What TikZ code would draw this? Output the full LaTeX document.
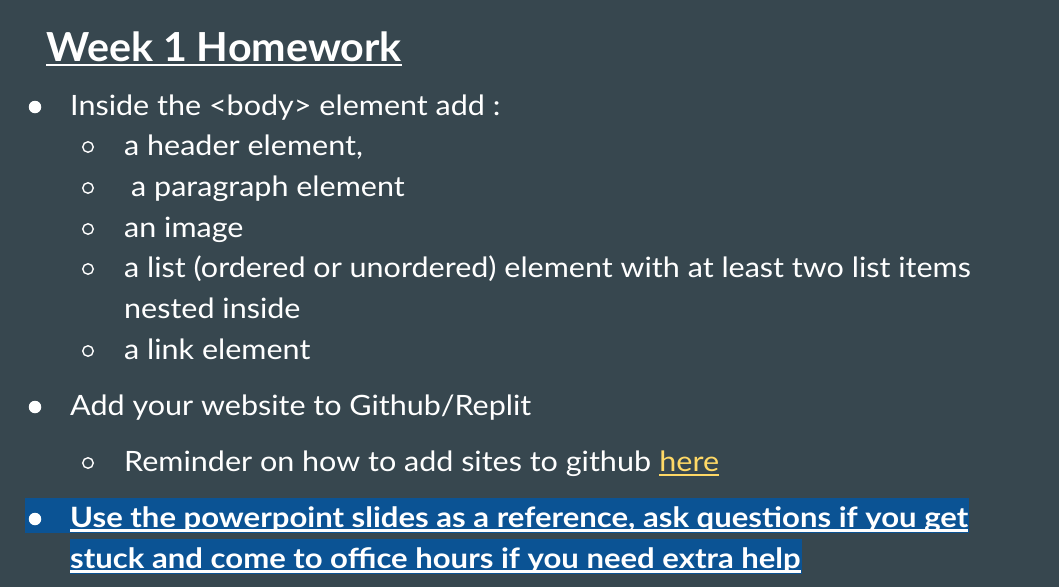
\documentclass[tikz,border=0pt]{standalone}
\usepackage{fontspec}
\setmainfont{Lato}
\newfontfamily\bodyfont[FakeStretch=1.09]{Lato}
\newfontfamily\titlefont[FakeStretch=1.03]{Lato}
\newfontfamily\hifont[FakeStretch=1.11]{Lato}
\usetikzlibrary{calc,backgrounds}
\definecolor{slate1}{RGB}{55,71,79}
\definecolor{hiblue}{RGB}{11,83,148}
\definecolor{gold1}{RGB}{255,217,102}
\tikzstyle{slide}=[
  x=1pt, y=-1pt, every node/.style={inner sep=0pt, anchor=base west, text=white}
]
\tikzstyle{bodytext}=[
  font=\bodyfont\fontsize{28}{34}\selectfont
]
\tikzstyle{titletext}=[
  font=\titlefont\fontsize{40}{48}\selectfont\bfseries
]
\tikzstyle{hitext}=[
  font=\hifont\fontsize{28}{34}\selectfont\bfseries
]
\tikzstyle{dotbullet}=[
  circle, fill=white, minimum size=12.5pt, anchor=center
]
\tikzstyle{ringbullet}=[
  circle, draw=white, line width=1.4pt, minimum size=10.5pt, anchor=center
]
\tikzstyle{uline}=[
  draw=white, line width=2.2pt
]
\begin{document}
\begin{tikzpicture}[slide]

    \node (title) [titletext] at (46,61) {Week 1 Homework};
    \draw [uline, line width=2.6pt] ($(title.base west)+(0,4)$) -- ($(title.base east)+(0,4)$);

    \node (dot1) [dotbullet] at (35,107) {};
    \node (item1) [bodytext] at (70,115) {Inside the <body> element add :};
    \node (ring1) [ringbullet] at (88,147) {};
    \node (sub1) [bodytext] at (124,155) {a header element,};
    \node (ring2) [ringbullet] at (88,188) {};
    \node (sub2) [bodytext] at (131,196) {a paragraph element};
    \node (ring3) [ringbullet] at (88,229) {};
    \node (sub3) [bodytext] at (124,237) {an image};
    \node (ring4) [ringbullet] at (88,269) {};
    \node (sub4) [bodytext] at (124,277) {a list (ordered or unordered) element with at least two list items};
    \node (sub4b) [bodytext] at (124,318) {nested inside};
    \node (ring5) [ringbullet] at (88,351) {};
    \node (sub5) [bodytext] at (124,359) {a link element};

    \node (dot2) [dotbullet] at (35,407) {};
    \node (item2) [bodytext] at (70,415) {Add your website to Github/Replit};
    \node (ring6) [ringbullet] at (88,463) {};
    \node (sub6) [bodytext] at (124,471) {Reminder on how to add sites to github};
    \node (here) [bodytext, text=gold1] at ($(sub6.base east)+(8,0)$) {here};
    \draw [uline, draw=gold1] ($(here.base west)+(0,4)$) -- ($(here.base east)+(0,4)$);

    \node (dot3) [dotbullet] at (35,519) {};
    \node (item3a) [hitext] at (70,527) {Use the powerpoint slides as a reference, ask questions if you get};
    \node (item3b) [hitext] at (70,568) {stuck and come to office hours if you need extra help};
    \draw [uline] ($(item3a.base west)+(0,3.5)$) -- ($(item3a.base east)+(0,3.5)$);
    \draw [uline] ($(item3b.base west)+(0,3.5)$) -- ($(item3b.base east)+(0,3.5)$);

    \begin{scope}[on background layer]
        \fill [slate1] (0,0) rectangle (1059,587);
        \fill [hiblue] (25,498) rectangle ($(item3a.base east)+(1,6)$);
        \fill [hiblue] ($(item3b.base west)+(0,-29)$) rectangle ($(item3b.base east)+(1,6)$);
    \end{scope}
    \useasboundingbox (0,0) rectangle (1059,587);
\end{tikzpicture}
\end{document}
